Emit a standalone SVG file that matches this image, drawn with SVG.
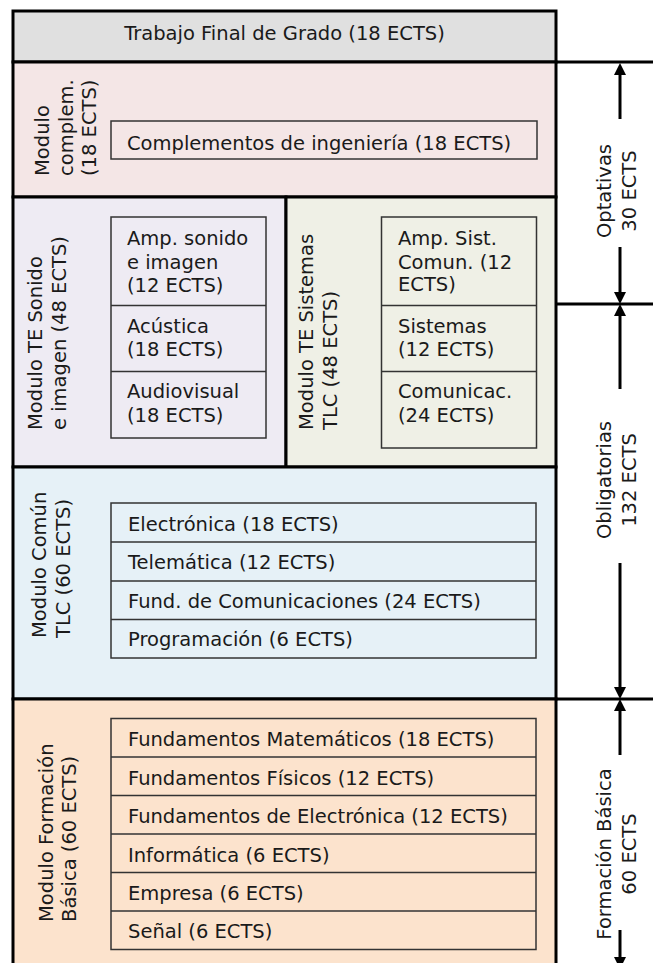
<svg xmlns="http://www.w3.org/2000/svg" width="655" height="963" viewBox="0 0 655 963">
<style>
  .mod { stroke: #000; stroke-width: 3; }
  .inner { fill: none; stroke: #333; stroke-width: 1.5; }
  .sep { stroke: #333; stroke-width: 1.5; }
  text { font-family: "DejaVu Sans", Verdana, sans-serif; font-size: 19.5px; fill: #1a1a1a; }
  .mid { text-anchor: middle; }
  .conn { stroke: #000; stroke-width: 3; fill: none; }
  .arr { stroke: #000; stroke-width: 3; fill: none; marker-end: url(#ah); }
</style>
<defs>
  <marker id="ah" markerUnits="userSpaceOnUse" markerWidth="12" markerHeight="12" refX="2" refY="6" orient="auto">
    <path d="M0,0 L12,6 L0,12 z" fill="#000"/>
  </marker>
</defs>
<rect x="0" y="0" width="655" height="963" fill="#fff"/>

<g id="tfg">
  <rect class="mod" x="13" y="11" width="543" height="51" fill="#e0e0e0"/>
  <text class="mid" x="284.5" y="40">Trabajo Final de Grado (18 ECTS)</text>
</g>

<g id="complem">
  <rect class="mod" x="13" y="62" width="543" height="135" fill="#f4e6e6"/>
  <text transform="translate(49,176) rotate(-90)">Modulo</text>
  <text transform="translate(72.5,176) rotate(-90)">complem.</text>
  <text transform="translate(96,176) rotate(-90)">(18 ECTS)</text>
  <rect class="inner" x="111" y="121" width="426" height="38"/>
  <text x="127" y="150">Complementos de ingeniería (18 ECTS)</text>
</g>

<g id="sonido">
  <rect class="mod" x="13" y="197" width="273" height="270" fill="#eeebf3"/>
  <text transform="translate(42,430) rotate(-90)">Modulo TE Sonido</text>
  <text transform="translate(66,430) rotate(-90)">e imagen (48 ECTS)</text>
  <rect class="inner" x="111" y="217" width="155" height="221"/>
  <line class="sep" x1="111" y1="305.5" x2="266" y2="305.5"/>
  <line class="sep" x1="111" y1="371.5" x2="266" y2="371.5"/>
  <text x="127" y="245">Amp. sonido</text>
  <text x="127" y="268.5">e imagen</text>
  <text x="127" y="292">(12 ECTS)</text>
  <text x="127" y="332.5">Acústica</text>
  <text x="127" y="356">(18 ECTS)</text>
  <text x="127" y="398">Audiovisual</text>
  <text x="127" y="421.5">(18 ECTS)</text>
</g>

<g id="sistemas">
  <rect class="mod" x="286" y="197" width="270" height="270" fill="#eff0e6"/>
  <text transform="translate(313,430) rotate(-90)">Modulo TE Sistemas</text>
  <text transform="translate(337,430) rotate(-90)">TLC (48 ECTS)</text>
  <rect class="inner" x="381.5" y="217" width="155" height="231"/>
  <line class="sep" x1="381.5" y1="305.5" x2="536.5" y2="305.5"/>
  <line class="sep" x1="381.5" y1="371.5" x2="536.5" y2="371.5"/>
  <text x="398" y="245">Amp. Sist.</text>
  <text x="398" y="268.5">Comun. (12</text>
  <text x="398" y="291">ECTS)</text>
  <text x="398" y="332.5">Sistemas</text>
  <text x="398" y="356">(12 ECTS)</text>
  <text x="398" y="398">Comunicac.</text>
  <text x="398" y="421.5">(24 ECTS)</text>
</g>

<g id="comun">
  <rect class="mod" x="13" y="467" width="543" height="232" fill="#e6f1f7"/>
  <text transform="translate(46,638) rotate(-90)">Modulo Común</text>
  <text transform="translate(70,638) rotate(-90)">TLC (60 ECTS)</text>
  <rect class="inner" x="111" y="503" width="425" height="155"/>
  <line class="sep" x1="111" y1="542" x2="536" y2="542"/>
  <line class="sep" x1="111" y1="581" x2="536" y2="581"/>
  <line class="sep" x1="111" y1="619.5" x2="536" y2="619.5"/>
  <text x="128" y="530.5">Electrónica (18 ECTS)</text>
  <text x="128" y="569">Telemática (12 ECTS)</text>
  <text x="128" y="607.5">Fund. de Comunicaciones (24 ECTS)</text>
  <text x="128" y="645.5">Programación (6 ECTS)</text>
</g>

<g id="basica">
  <rect class="mod" x="13" y="699" width="543" height="280" fill="#fce3cd"/>
  <text transform="translate(53,922) rotate(-90)">Modulo Formación</text>
  <text transform="translate(76,922) rotate(-90)">Básica (60 ECTS)</text>
  <rect class="inner" x="111" y="718.5" width="425" height="231"/>
  <line class="sep" x1="111" y1="757" x2="536" y2="757"/>
  <line class="sep" x1="111" y1="795.5" x2="536" y2="795.5"/>
  <line class="sep" x1="111" y1="834" x2="536" y2="834"/>
  <line class="sep" x1="111" y1="872.5" x2="536" y2="872.5"/>
  <line class="sep" x1="111" y1="911" x2="536" y2="911"/>
  <text x="128" y="746">Fundamentos Matemáticos (18 ECTS)</text>
  <text x="128" y="785">Fundamentos Físicos (12 ECTS)</text>
  <text x="128" y="823">Fundamentos de Electrónica (12 ECTS)</text>
  <text x="128" y="861.5">Informática (6 ECTS)</text>
  <text x="128" y="900">Empresa (6 ECTS)</text>
  <text x="128" y="938">Señal (6 ECTS)</text>
</g>

<g id="connectors">
  <line class="conn" x1="556" y1="62" x2="653" y2="62"/>
  <line class="conn" x1="556" y1="304" x2="653" y2="304"/>
  <line class="conn" x1="556" y1="699" x2="653" y2="699"/>
  <line class="arr" x1="620" y1="119" x2="620" y2="73"/>
  <line class="arr" x1="620" y1="247" x2="620" y2="294"/>
  <line class="arr" x1="620" y1="389" x2="620" y2="314"/>
  <line class="arr" x1="620" y1="563" x2="620" y2="689"/>
  <line class="arr" x1="620" y1="755" x2="620" y2="709"/>
  <line class="arr" x1="620" y1="930" x2="620" y2="959"/>
</g>

<g id="labels">
  <text class="mid" transform="translate(611,191) rotate(-90)">Optativas</text>
  <text class="mid" transform="translate(636,191) rotate(-90)">30 ECTS</text>
  <text class="mid" transform="translate(611,480) rotate(-90)">Obligatorias</text>
  <text class="mid" transform="translate(636,480) rotate(-90)">132 ECTS</text>
  <text class="mid" transform="translate(611,854) rotate(-90)">Formación Básica</text>
  <text class="mid" transform="translate(636,854) rotate(-90)">60 ECTS</text>
</g>
</svg>
